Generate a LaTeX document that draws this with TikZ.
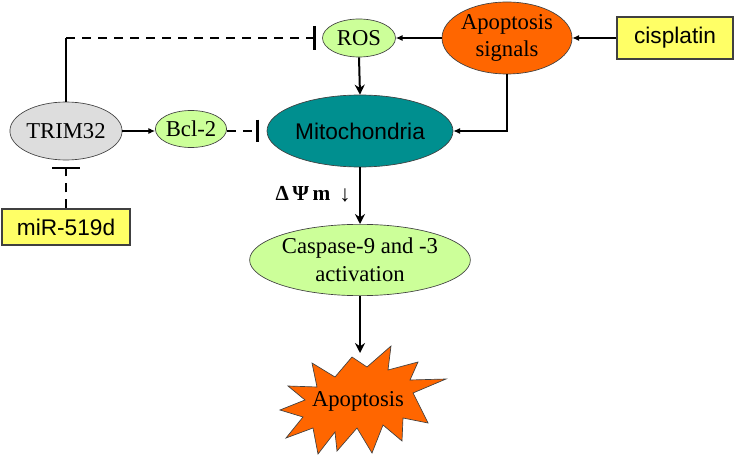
\documentclass[tikz,border=0pt]{standalone}
\usepackage{fontspec}
\setmainfont{Liberation Serif}
\newfontfamily\sansf{Liberation Sans}
\usetikzlibrary{shapes.geometric,arrows.meta}
\definecolor{lgreen}{HTML}{CCFF99}
\definecolor{orng}{HTML}{FF6600}
\definecolor{teal2}{HTML}{008F8F}
\definecolor{yel}{HTML}{FFFF66}
\definecolor{lgray}{HTML}{DDDDDD}
\definecolor{edge}{HTML}{404040}
\tikzset{
  ell/.style={ellipse, draw=edge, line width=0.5pt, inner sep=0pt, align=center, font=\fontsize{17}{20}\selectfont},
  ybox/.style={rectangle, draw=edge, line width=0.8pt, fill=yel, inner sep=0pt, font=\sansf\fontsize{17}{20}\selectfont},
  thinarr/.style={line width=0.8pt, -{Latex[length=5pt,width=4.5pt]}},
  thickarr/.style={line width=1.5pt, -{Stealth[length=7.5pt,width=7.5pt]}},
  inhib/.style={line width=1.5pt, dash pattern=on 7pt off 5pt, -{Bar[width=#1,line width=1.8pt]}},
  solidln/.style={line width=1.5pt},
}
\begin{document}
\begin{tikzpicture}[x=0.75pt,y=-0.75pt]
\path[use as bounding box] (0,0) rectangle (735,456);

% nodes
\node[ell, fill=lgreen, minimum width=54.75pt, minimum height=28.5pt] (ros) at (359,38) {ROS};
\node[ell, fill=orng, minimum width=91.5pt, minimum height=54pt, font=\fontsize{17}{20}\selectfont] (sig) at (507,38) {Apoptosis\\signals};
\node[ybox, minimum width=87pt, minimum height=31.5pt] (cis) at (675,38) {cisplatin};
\node[ell, fill=teal2, minimum width=139.5pt, minimum height=54pt, font=\sansf\fontsize{17}{20}\selectfont] (mito) at (360,131) {Mitochondria};
\node[ell, fill=lgreen, minimum width=48pt, minimum height=27.75pt] (bcl) at (191,129) {Bcl-2};
\node[ell, fill=lgray, minimum width=76.5pt, minimum height=43.5pt] (trim) at (66,131) {TRIM32};
\node[ybox, minimum width=96pt, minimum height=27pt] (mir) at (66,227) {miR-519d};
\node[ell, fill=lgreen, minimum width=144.75pt, minimum height=53.5pt, font=\fontsize{17}{21}\selectfont] (casp) at (360,260) {Caspase-9 and -3\\activation};

% starburst
\filldraw[fill=orng, draw=edge, line width=0.5pt]
  (352,357) -- (367,367) -- (391,346) -- (388,370) -- (418,362) -- (410,380)
  -- (446,379) -- (413,393) -- (428,423) -- (403,418) -- (402,441) -- (383,425)
  -- (372,453) -- (357,428) -- (337,451) -- (335,432) -- (318,454) -- (313,428)
  -- (286,438) -- (303,417) -- (280,410) -- (305,400) -- (288,386) -- (317,387)
  -- (312,363) -- (335,377) -- cycle;
\node[font=\fontsize{17}{20}\selectfont, inner sep=0pt] (apop) at (358,401) {Apoptosis};
\coordinate (startop) at (360,353);

% label
\node[font=\bfseries\fontsize{16}{18}\selectfont, inner sep=0pt] (dpsi) at (303,193) {Δ\,Ψ\,m};
\node[font=\fontsize{17}{18}\selectfont, inner sep=0pt] (darr) at (345,195) {↓};

% connectors
\draw[thinarr] (cis.west) -- (sig.east);
\draw[thinarr] (sig.west) -- (ros.east);
\draw[thinarr] (sig.south) |- (mito.east);
\draw[thickarr] (ros.south) -- (mito.north);
\draw[thinarr] (trim.east) -- (trim.east -| bcl.west);
\draw[inhib=17pt, shorten >=6pt] (bcl.east |- mito.west) -- (mito.west);
\coordinate (corner) at (trim.north |- ros.west);
\draw[solidln] (trim.north) -- (corner);
\draw[inhib=18pt, shorten >=5pt] (corner) -- (ros.west);
\draw[inhib=21pt, shorten >=5pt] (mir.north) -- (trim.south);
\draw[thickarr] (mito.south) -- (casp.north);
\draw[thickarr] (casp.south) -- (startop);
\end{tikzpicture}
\end{document}
